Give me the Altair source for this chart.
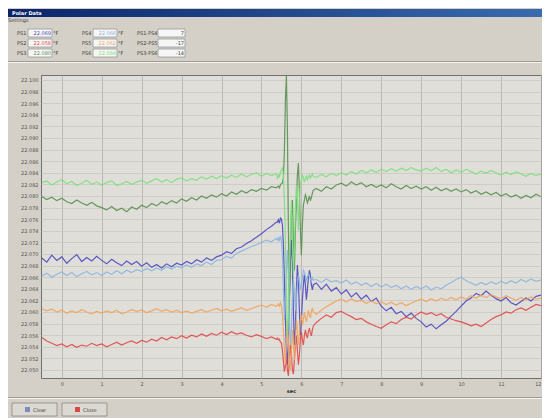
import altair as alt
import pandas as pd
import numpy as np

FONT = "DejaVu Sans"
SERIES = ["PS1", "PS2", "PS3", "PS4", "PS5", "PS6"]
COLORS = ["#4a48c0", "#e04848", "#58904f", "#8ab6de", "#f0a45c", "#7ce07c"]

# sampling grid (seconds)
T_A = np.round(np.arange(48) * 0.125 - 0.5, 3)
T_B = np.round(np.arange(37) * 0.025 + 5.40, 3)
T_C = np.round(np.arange(46) * 0.125 + 6.375, 3)

# values in thousandths above 22.000
PS1_A = [69.3, 68.6, 69.8, 68.9, 69.5, 68.4, 69.2, 69.9, 68.7, 69.4, 68.8, 69.6,
         68.9, 68.3, 69.1, 68.5, 68.0, 68.8, 68.2, 68.7,
         67.9, 68.5, 67.7, 68.2, 67.6, 68.3, 67.8, 68.4,
         68.1, 68.7, 68.3, 69.0, 68.6, 69.3, 68.9, 69.5,
         69.8, 70.4, 70.1, 70.9, 71.2, 71.8, 72.3, 72.9,
         73.5, 74.2, 74.8, 75.5]
PS1_B = [75.5, 75.9, 75.3, 76.2, 76.0, 75.0, 71.6, 65.5, 58.6, 53.4, 50.9, 55.2, 62.1,
         69.0, 72.4, 68.1, 60.3, 54.3, 56.9, 63.8, 68.1, 65.5, 60.3, 56.0, 58.6,
         62.1, 64.7, 66.4, 64.7, 62.1, 63.8, 65.9, 67.2, 66.4, 64.7, 63.8, 64.7]
PS1_C = [65.0, 63.9, 64.8, 63.6, 64.2,
         63.1, 63.8, 62.6, 63.3, 62.2, 62.9, 61.8, 62.4,
         61.0, 60.2, 60.8, 59.7, 60.1, 59.2, 59.8, 58.9,
         58.3, 57.4, 57.9, 57.1, 57.8, 58.4, 59.3, 60.1,
         61.0, 61.9, 62.4, 63.2, 62.8, 63.6, 62.9, 62.3,
         61.9, 62.5, 61.6, 61.2, 61.8, 62.4, 61.9, 62.7, 62.9]

PS2_A = [55.6, 55.0, 54.6, 54.2, 54.5, 54.0, 54.4, 53.9, 54.3, 54.1, 54.6, 54.2,
         54.5, 54.0, 54.4, 54.8, 54.3, 54.7, 55.0, 54.6,
         55.1, 54.8, 55.3, 55.0, 55.6, 55.2, 55.7, 55.4,
         55.9, 55.5, 56.0, 55.7, 56.2, 55.8, 56.3, 56.0,
         56.5, 56.1, 56.6, 56.2, 56.4, 56.0, 55.7, 56.1,
         55.8, 55.4, 55.7, 55.3]
PS2_B = [55.5, 55.2, 55.3, 54.8, 54.7, 53.4, 51.4, 49.7, 50.7, 52.6, 50.0, 49.0, 51.7,
         54.3, 52.6, 50.0, 49.3, 51.7, 54.3, 56.0, 53.4, 50.9, 52.6, 55.2, 56.6,
         55.2, 54.3, 55.9, 56.9, 56.0, 55.5, 56.6, 57.2, 56.4, 55.9, 56.9, 57.6]
PS2_C = [58.2, 58.9, 59.5, 59.1, 59.9,
         60.1, 59.6, 59.2, 58.7, 58.9, 58.3, 57.9, 57.5,
         57.2, 57.8, 58.3, 58.0, 58.7, 59.1, 58.8, 59.5,
         60.0, 59.6, 59.9, 59.4, 59.7, 59.1, 58.8, 58.5,
         58.3, 58.0, 57.6, 57.9, 57.5, 58.1, 58.7, 59.2,
         59.5, 60.0, 59.8, 60.4, 60.7, 60.3, 60.8, 61.3, 61.1]

PS3_A = [79.9, 79.4, 79.8, 79.2, 79.6, 79.0, 78.7, 79.3, 78.8, 78.4, 78.9, 78.3,
         78.0, 77.6, 78.2, 77.5, 77.9, 77.3, 78.1, 77.7,
         78.4, 78.0, 78.7, 78.3, 79.0, 78.6, 79.2, 78.8,
         79.5, 79.1, 79.7, 79.3, 80.0, 79.6, 80.2, 79.8,
         80.4, 80.0, 80.7, 80.3, 80.9, 80.5, 81.1, 80.8,
         81.3, 81.0, 81.6, 81.4]
PS3_B = [81.6, 81.7, 81.4, 81.9, 82.1, 82.2, 83.1, 87.9, 96.6, 100.7, 91.4, 74.1, 62.1,
         69.0, 76.7, 79.3, 72.4, 67.2, 74.1, 79.3, 83.6, 85.7, 81.0, 74.1, 69.8,
         75.0, 78.4, 79.3, 80.2, 79.7, 78.8, 79.3, 80.0, 79.3, 79.7, 80.5, 81.0]
PS3_C = [81.3, 80.8, 81.6, 81.2, 81.9,
         82.2, 81.7, 82.4, 81.9, 82.3, 81.6, 82.0, 81.5,
         81.9, 81.4, 82.1, 81.6, 81.2, 81.8, 81.3, 81.7,
         81.2, 81.6, 81.0, 81.5, 80.9, 81.3, 80.8, 81.2,
         80.7, 81.1, 80.5, 80.9, 80.3, 80.7, 80.2, 80.6,
         80.0, 80.4, 79.8, 80.2, 79.6, 80.1, 79.7, 80.3, 79.9]

PS4_A = [66.2, 66.7, 66.0, 66.5, 66.9, 66.3, 66.8, 66.1, 66.6, 67.0, 66.4, 66.8,
         66.3, 66.9, 66.5, 67.1, 66.6, 67.2, 66.8, 67.3,
         67.0, 67.5, 67.1, 67.6, 67.2, 67.8, 67.4, 67.9,
         67.6, 68.1, 67.7, 68.3, 68.0, 68.6, 68.2, 68.9,
         69.0, 69.6, 69.3, 70.1, 70.5, 70.9, 71.3, 71.6,
         72.0, 72.4, 72.1, 72.7]
PS4_B = [72.4, 72.8, 72.2, 73.1, 72.4, 69.8, 63.8, 58.6, 62.1, 67.2, 70.7, 66.4, 58.6,
         54.3, 56.9, 62.1, 65.5, 63.8, 60.3, 62.1, 64.7, 66.4, 65.5, 63.8, 64.7,
         65.9, 67.2, 66.9, 66.2, 65.5, 65.9, 66.6, 66.2, 65.7, 65.3, 65.9, 65.5]
PS4_C = [65.6, 65.1, 65.7, 65.2, 65.4,
         65.0, 65.5, 64.8, 65.2, 64.6, 65.0, 64.4, 64.9,
         64.3, 64.8, 64.2, 64.6, 64.0, 64.5, 63.9, 64.4,
         64.0, 64.5, 63.8, 64.3, 64.0, 64.6, 65.1, 65.6,
         66.0, 65.4, 65.0, 64.6, 65.1, 64.7, 65.2, 64.8,
         65.3, 64.9, 65.4, 65.0, 65.6, 65.2, 65.7, 65.3, 65.5]

PS5_A = [60.6, 60.2, 60.5, 60.0, 60.3, 59.8, 60.2, 59.9, 60.4, 60.0, 59.7, 60.1,
         59.8, 60.2, 59.9, 60.3, 59.7, 60.0, 60.4, 60.1,
         60.3, 59.9, 60.2, 60.6, 60.1, 60.4, 60.0, 60.3,
         59.9, 60.2, 59.8, 60.1, 60.4, 60.0, 60.3, 60.6,
         60.2, 60.5, 60.1, 60.4, 60.7, 60.3, 60.6, 60.9,
         61.2, 60.8, 61.3, 61.0]
PS5_B = [61.2, 61.4, 61.0, 61.6, 61.2, 59.5, 56.9, 53.4, 50.9, 54.3, 58.6, 55.2, 51.7,
         50.0, 53.4, 56.9, 54.3, 51.7, 55.2, 58.6, 56.9, 54.3, 56.0, 58.6, 59.5,
         57.8, 58.6, 60.0, 59.0, 58.3, 59.3, 60.3, 59.5, 59.0, 60.0, 60.7, 60.0]
PS5_C = [59.6, 60.3, 60.9, 61.4, 61.9,
         62.2, 61.7, 62.3, 61.8, 62.0, 61.5, 61.9, 61.4,
         61.8, 61.3, 61.7, 61.2, 61.6, 61.1, 61.5, 61.9,
         62.2, 61.8, 62.3, 61.9, 62.4, 62.0, 62.5, 62.1,
         62.6, 62.2, 62.8, 62.4, 62.9, 62.5, 63.0, 62.6,
         62.3, 62.8, 62.4, 62.0, 62.5, 62.1, 62.6, 62.2, 62.4]

PS6_A = [82.3, 82.6, 81.9, 82.4, 82.8, 82.1, 82.5, 81.8, 82.2, 82.7, 82.0, 82.4,
         81.9, 82.3, 82.6, 81.8, 82.1, 82.5, 82.0, 82.4,
         82.7, 82.2, 82.6, 83.0, 82.4, 82.8, 82.3, 82.9,
         83.1, 82.6, 83.0, 82.7, 83.3, 82.9, 83.4, 83.0,
         83.5, 83.1, 83.6, 83.2, 83.8, 83.3, 83.7, 84.0,
         83.4, 83.9, 83.5, 83.8]
PS6_B = [83.1, 83.6, 83.3, 84.1, 84.5, 84.8, 83.6, 79.3, 72.4, 63.8, 56.0, 58.6, 67.2,
         74.1, 79.3, 74.1, 66.4, 70.7, 77.6, 81.9, 79.3, 74.1, 79.3, 81.9, 82.8,
         83.6, 83.1, 82.4, 83.1, 83.4, 82.8, 83.3, 83.6, 83.1, 83.4, 83.8, 83.4]
PS6_C = [83.2, 83.7, 83.3, 83.9, 83.5,
         84.0, 83.6, 84.2, 83.8, 84.4, 84.0, 84.5, 84.1,
         84.6, 84.2, 84.7, 84.3, 84.8, 84.4, 84.9, 84.5,
         84.3, 84.8, 84.4, 84.9, 84.2, 84.6, 84.0, 84.5,
         84.1, 84.6, 84.2, 83.8, 84.3, 83.9, 84.4, 84.0,
         83.6, 84.1, 83.7, 84.2, 83.8, 83.4, 83.9, 83.5, 83.8]

Y_TICKS = [round(22.050 + 0.002 * k, 3) for k in range(26)]
X_TICKS = list(range(13))

READ_1 = ["22.069", "22.058", "22.080"]
READ_2 = ["22.066", "22.062", "22.084"]
DIFFS = ["7", "-17", "-14"]

segs = {
    "PS1": (PS1_A, PS1_B, PS1_C), "PS2": (PS2_A, PS2_B, PS2_C),
    "PS3": (PS3_A, PS3_B, PS3_C), "PS4": (PS4_A, PS4_B, PS4_C),
    "PS5": (PS5_A, PS5_B, PS5_C), "PS6": (PS6_A, PS6_B, PS6_C),
}
T_ALL = np.concatenate([T_A, T_B, T_C])
rows = []
for name, (a, b, c) in segs.items():
    vals = list(a) + list(b) + list(c)
    for t, v in zip(T_ALL, vals):
        rows.append({"t": float(t), "value": 22.0 + v / 1000.0, "series": name})
df = pd.DataFrame(rows)

W, H = 500, 303
OX, OY = 41, 75  # page position of plot origin

one = pd.DataFrame({"k": [0]})


def rect(x1, y1, x2, y2, fill, stroke=None, sw=1.0):
    kw = {"fill": fill}
    if stroke:
        kw["stroke"] = stroke
        kw["strokeWidth"] = sw
    return alt.Chart(one).mark_rect(**kw).encode(
        x=alt.value(x1 - OX), x2=alt.value(x2 - OX),
        y=alt.value(y1 - OY), y2=alt.value(y2 - OY))


def label(txt, x, y, color="#404040", size=5, align="left", bold=False):
    return alt.Chart(one).mark_text(
        text=txt, align=align, baseline="middle", fontSize=size, color=color,
        font=FONT, fontWeight="bold" if bold else "normal"
    ).encode(x=alt.value(x - OX), y=alt.value(y - OY))


layers = []
# title bar
layers.append(alt.Chart(one).mark_rect(
    fill=alt.Gradient(gradient="linear",
                      stops=[alt.GradientStop(offset=0, color="#0a246a"),
                             alt.GradientStop(offset=1, color="#3a6cb0")],
                      x1=0, x2=1, y1=0, y2=0)
).encode(x=alt.value(7 - OX), x2=alt.value(552 - OX),
         y=alt.value(9 - OY), y2=alt.value(17 - OY)))
layers.append(label("Polar Data", 12, 13, color="#ffffff", bold=True))
layers.append(label("Settings", 8, 20))
# separators
layers.append(rect(7, 61, 552, 62, "#a09c94"))
layers.append(rect(7, 62, 552, 63, "#f4f2ee"))
layers.append(rect(7, 397, 552, 398, "#a09c94"))
layers.append(rect(7, 398, 552, 399, "#f4f2ee"))

rows_y = [33, 43, 53]
for i in range(3):
    yy = rows_y[i]
    layers.append(label(SERIES[i], 17, yy))
    layers.append(rect(28, yy - 4, 52, yy + 4, "#f6f6f6", "#9a9a9a", 0.8))
    layers.append(label(READ_1[i], 51, yy, color=COLORS[i], align="right"))
    layers.append(label("°F", 53, yy))
    layers.append(label(SERIES[i + 3], 82, yy))
    layers.append(rect(93, yy - 4, 117, yy + 4, "#f6f6f6", "#9a9a9a", 0.8))
    layers.append(label(READ_2[i], 116, yy, color=COLORS[i + 3], align="right"))
    layers.append(label("°F", 118, yy))
    layers.append(label(f"{SERIES[i]}-{SERIES[i + 3]}", 137, yy))
    layers.append(rect(158, yy - 4, 185, yy + 4, "#f6f6f6", "#9a9a9a", 0.8))
    layers.append(label(DIFFS[i], 184, yy, align="right"))

# buttons
layers.append(rect(12, 403, 57, 416, "#dcd9d3", "#8a8782", 0.8))
layers.append(rect(62, 403, 107, 416, "#dcd9d3", "#8a8782", 0.8))
layers.append(rect(25, 407, 30, 412, "#7c8cc0"))
layers.append(rect(75, 407, 80, 412, "#d84848"))
layers.append(label("Clear", 33, 409.5))
layers.append(label("Close", 83, 409.5))

lines = alt.Chart(df).mark_line(strokeWidth=1.2, opacity=0.9, clip=True).encode(
    x=alt.X("t:Q", scale=alt.Scale(domain=[-0.52, 12.0], nice=False, zero=False),
            axis=alt.Axis(values=X_TICKS, title="sec", grid=True, labelFontSize=5,
                          labelPadding=3, titleFontSize=5, titlePadding=2,
                          titleFontWeight="bold", gridColor="#b2afaa")),
    y=alt.Y("value:Q", scale=alt.Scale(domain=[22.04862, 22.10086], nice=False, zero=False),
            axis=alt.Axis(values=Y_TICKS, format=".3f", title=None, grid=True,
                          labelFontSize=5, labelPadding=3, gridColor="#cac7c1")),
    color=alt.Color("series:N", scale=alt.Scale(domain=SERIES, range=COLORS), legend=None),
)

chart = alt.layer(*layers, lines).properties(
    width=W, height=H,
    autosize=alt.AutoSizeParams(type="none"),
    padding={"left": 33, "top": 67, "right": 1, "bottom": 40},
    background="#d4d0c8",
).configure_view(
    fill="#e0ded9", stroke="#707070", strokeWidth=1
).configure_axis(
    domain=False, ticks=False, labelFont=FONT, titleFont=FONT,
    labelColor="#555555", titleColor="#303030", gridWidth=0.8
)

chart.save("out.html", embed_options={"renderer": "svg", "actions": False})
